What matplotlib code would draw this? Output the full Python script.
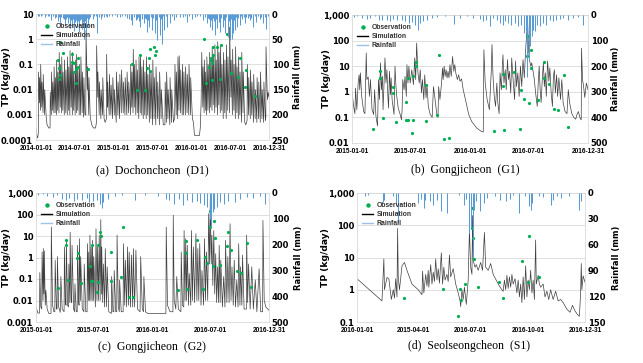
import datetime as dt
import numpy as np
import matplotlib
matplotlib.use("Agg")
import matplotlib.pyplot as plt
from matplotlib.lines import Line2D
from matplotlib.ticker import NullLocator

plt.rcParams['font.family'] = ['DejaVu Sans']

# ---------------- (a) Dochoncheon (D1) : day offsets from 2014-01-01 ----------------
a_sim_day = [0, 4, 8, 11, 12, 16, 17, 21, 22, 27, 28, 33, 34, 40, 41, 48, 52, 60, 66, 67, 72, 73, 78, 79, 84, 85, 90, 91, 96, 97,
             102, 103, 108, 109, 114, 115, 120, 121, 126, 127, 133, 134, 140, 141, 147, 148, 153, 154, 159, 160, 165, 166, 171, 172,
             177, 178, 184, 185, 190, 191, 196, 197, 203, 204, 210, 211, 217, 218, 224, 225, 230, 234, 235, 239, 241, 242, 248, 249,
             255, 262, 270, 280, 284, 285, 290, 291, 297, 298, 305, 306, 313, 314, 320, 325, 331, 332, 336, 337, 344, 345, 352, 353,
             360, 361, 368, 369, 377, 378, 385, 386, 393, 394, 401, 402, 410, 411, 418, 419, 427, 428, 435, 436, 444, 445, 450, 451,
             456, 457, 462, 463, 469, 470, 476, 477, 483, 484, 490, 491, 497, 498, 504, 505, 511, 512, 518, 519, 525, 526, 533, 534,
             540, 541, 548, 549, 555, 556, 563, 564, 571, 572, 580, 581, 588, 589, 598, 606, 607, 613, 614, 620, 621, 629, 630, 637,
             638, 646, 652, 653, 659, 660, 666, 667, 672, 673, 679, 680, 687, 688, 694, 695, 702, 703, 710, 711, 718, 719, 726, 727,
             735, 740, 744, 746, 768, 772, 776, 778, 779, 784, 785, 790, 791, 796, 797, 802, 803, 808, 809, 815, 816, 821, 822, 827,
             828, 833, 834, 840, 841, 846, 847, 853, 854, 859, 860, 866, 867, 873, 874, 880, 881, 887, 888, 894, 895, 901, 902, 909,
             910, 914, 916, 917, 923, 924, 930, 931, 937, 938, 944, 945, 951, 952, 958, 959, 966, 967, 973, 974, 981, 986, 992, 993,
             999, 1000, 1007, 1008, 1014, 1015, 1022, 1023, 1030, 1031, 1038, 1039, 1046, 1047, 1054, 1055, 1062, 1063, 1070, 1071,
             1078, 1080, 1081, 1086, 1088, 1091, 1095]
a_sim_val = [0.0003, 0.00015, 0.00012, 0.0002, 0.05, 0.003, 0.03, 0.0015, 0.1, 0.002, 0.02, 0.0012, 0.04, 0.001, 0.01, 0.0008,
             0.0004, 0.0003, 0.0003, 0.008, 0.001, 0.05, 0.0015, 0.02, 0.0012, 0.08, 0.0012, 0.03, 0.001, 0.15,
             0.0015, 0.05, 0.0012, 0.3, 0.002, 0.1, 0.0012, 0.2, 0.0015, 0.05, 0.001, 0.15, 0.0012, 0.06, 0.001, 0.2, 0.0015, 0.08,
             0.001, 0.35, 0.002, 0.1, 0.001, 0.3,
             0.0015, 0.05, 0.001, 0.15, 0.0012, 0.25, 0.0015, 0.08, 0.001, 0.1, 0.001, 0.2, 0.0012, 0.05, 0.0008, 0.03, 0.001,
             0.001, 2.2, 0.05, 0.01, 0.08, 0.001, 0.03,
             0.0008, 0.0004, 0.0003, 0.0003, 0.0005, 0.55, 0.005, 0.05, 0.001, 0.02, 0.0007, 0.01, 0.001, 0.03, 0.0007, 0.0005,
             0.0007, 0.25, 0.002, 0.02, 0.001, 0.04, 0.001, 0.015,
             0.0007, 0.03, 0.001, 0.01, 0.0005, 0.05, 0.001, 0.02, 0.0007, 0.04, 0.0012, 0.06, 0.0012, 0.02, 0.001, 0.03, 0.001,
             0.05, 0.0012, 0.02, 0.001, 0.1, 0.002, 0.05,
             0.0012, 0.4, 0.002, 0.1, 0.001, 0.15, 0.0012, 0.06, 0.0007, 0.2, 0.0012, 0.25, 0.001, 0.08, 0.0007, 0.15, 0.001,
             0.05, 0.0007, 0.2, 0.001, 0.04, 0.0005, 0.1,
             0.0007, 0.05, 0.0004, 0.15, 0.0007, 0.03, 0.0004, 0.08, 0.0007, 0.02, 0.0004, 0.05, 0.0007, 0.01, 0.0004, 0.0004,
             0.02, 0.0005, 0.05, 0.0007, 0.01, 0.0004, 0.03, 0.0005,
             0.01, 0.0005, 0.0008, 0.1, 0.001, 0.05, 0.0007, 0.2, 0.0015, 0.22, 0.0012, 0.06, 0.001, 0.1, 0.001, 0.05, 0.001,
             0.08, 0.0012, 0.04, 0.001, 0.1, 0.001, 0.03,
             0.0007, 0.0005, 0.00018, 0.00015, 0.00015, 0.0003, 0.003, 0.05, 0.3, 0.002, 0.08, 0.0012, 0.15, 0.0015, 0.05,
             0.001, 0.2, 0.0015, 0.1, 0.0012, 0.3, 0.002, 0.15, 0.0015,
             0.5, 0.0025, 0.2, 0.0012, 0.6, 0.002, 0.15, 0.001, 0.8, 0.0025, 0.3, 0.0012, 0.5, 0.0015, 0.1, 0.0007, 0.3, 0.0012,
             0.15, 0.0007, 0.6, 0.0015, 0.2, 0.0012,
             3.0, 0.03, 0.005, 0.15, 0.001, 0.4, 0.0015, 0.1, 0.0007, 0.5, 0.0012, 0.08, 0.0007, 0.2, 0.001, 0.05, 0.0005, 0.3,
             0.0012, 0.05, 0.0005, 0.0004, 0.0006, 0.1,
             0.001, 0.03, 0.0007, 0.06, 0.001, 0.02, 0.0005, 0.04, 0.0007, 0.01, 0.0005, 0.03, 0.0007, 0.02, 0.0005, 0.05,
             0.0007, 0.01, 0.0005, 0.02,
             0.0006, 0.0008, 0.5, 0.01, 0.004, 0.008, 0.005]
a_obs_day = [115, 128, 168, 104, 196, 168, 180, 107, 199, 187, 177, 107, 115, 188, 243,
             453, 491, 473, 510, 530, 522, 538, 538, 555, 557, 566,
             790, 799, 815, 823, 823, 827, 830, 834, 827, 849, 868, 865, 897, 916, 950, 959, 986, 983, 1028]
a_obs_val = [0.76, 0.28, 0.26, 0.15, 0.18, 0.12, 0.11, 0.075, 0.082, 0.066, 0.052, 0.027, 0.038, 0.018, 0.064,
             0.1, 0.24, 0.0093, 0.0093, 0.18, 0.07, 0.057, 0.4, 0.51, 0.24, 0.35,
             1.06, 0.019, 0.077, 0.15, 0.18, 0.11, 0.24, 0.47, 0.024, 0.51, 0.6, 0.027, 1.58, 0.045, 0.033, 0.18, 0.06, 0.013, 0.0058]
a_rain_day = [8, 22, 30, 40, 55, 72, 80, 87, 95, 103, 110, 115, 125, 134, 140, 149, 155, 159, 168, 175, 180, 186, 193, 199, 204,
              210, 215, 221, 227, 236, 246, 255, 266, 280, 289, 305, 320, 336, 359, 383, 406, 420, 437, 453, 468, 480, 491, 500,
              507, 515, 522, 533, 546, 557, 569, 582, 592, 603, 616, 631, 647, 660, 678, 700, 709, 732, 756, 770, 787, 802, 810,
              818, 827, 835, 841, 852, 858, 865, 877, 889, 902, 911, 919, 927, 936, 945, 958, 970, 981, 995, 1005, 1020, 1036,
              1051, 1067, 1075, 1082, 1090,
              15, 48, 63, 118, 130, 145, 163, 172, 183, 190, 197, 207, 218, 224, 232, 240, 250, 272, 296, 312, 328, 345, 370,
              395, 430, 445, 460, 474, 486, 496, 511, 527, 540, 552, 563, 576, 587, 598, 610, 640, 690, 720, 745, 795, 814,
              823, 831, 846, 861, 871, 883, 895, 906, 915, 923, 932, 941, 950, 964, 976, 988, 1000, 1012, 1028, 1044, 1059]
a_rain_mm = [3, 4, 2, 5.3, 3, 12, 4, 8.6, 5, 13, 6, 18.5, 8, 22, 10, 18.5, 7, 28, 25, 9, 33, 12, 25, 14, 35,
             10, 30, 15, 50, 38, 24, 6, 9, 4, 38, 9, 5, 6.6, 4, 5.3, 3, 4, 9, 22, 12, 6, 25, 8,
             18.5, 10, 35, 25, 32, 38, 52, 42, 60, 32, 25, 18.5, 12, 6, 5.3, 4, 15, 9, 4, 3, 12, 18.5, 8,
             25, 32, 14, 42, 28, 12, 35, 25, 38, 45, 52, 50, 38, 32, 25, 22, 10, 18.5, 8, 12, 25, 15.5,
             9, 18.5, 6, 30, 4,
             3, 2, 4, 6, 9, 5, 12, 8, 15, 10, 7, 12, 9, 6, 14, 8, 10, 4, 5, 3, 4, 3, 2,
             5, 8, 12, 6, 10, 14, 9, 7, 11, 5, 8, 12, 6, 9, 4, 3, 4, 6, 3, 5, 6, 9,
             12, 7, 10, 15, 8, 11, 6, 13, 9, 7, 12, 5, 8, 4, 6, 5, 3, 7, 4, 3, 5]

# ---------------- (b) Gongjicheon (G1) : day offsets from 2015-01-01 ----------------
b_sim_day = [0, 5, 9, 11, 15, 19, 22, 24, 26, 30, 36, 40, 44, 46, 50, 54, 57, 62, 67, 70, 74, 79, 82, 85, 88, 91, 94, 96,
             102, 105, 108, 111, 113, 116, 119, 121, 124, 130, 133, 136, 139, 143, 149, 153, 155, 157, 161, 164, 168, 170,
             173, 176, 180, 185, 190, 194, 197, 200, 204, 208, 211, 215, 218, 222, 225, 229, 232, 236, 242, 248, 252, 257,
             262, 266, 268, 272, 277, 280, 282, 285, 288, 291, 294, 297, 300, 303, 307, 311, 315, 318, 321, 326, 330, 334,
             339, 344, 353, 361, 370, 386, 401, 406, 408, 412, 418, 425, 431, 433, 436, 440, 444, 448, 451, 455, 458, 462,
             465, 467, 470, 474, 477, 481, 484, 487, 491, 494, 499, 503, 506, 509, 513, 517, 521, 525, 529, 533, 537, 540,
             543, 546, 549, 553, 556, 560, 564, 568, 573, 576, 579, 582, 585, 589, 592, 595, 598, 601, 605, 609, 612, 616,
             620, 623, 626, 629, 633, 636, 640, 645, 649, 653, 659, 665, 669, 673, 680, 686, 692, 696, 700, 706, 709, 710,
             713, 716, 720, 725, 730]
b_sim_val = [1.05, 0.27, 0.14, 1.4, 0.2, 2.2, 4.6, 1.2, 5.5, 0.66, 0.17, 0.14, 33, 3.0, 3.8, 0.66, 3.0, 0.2, 0.13, 1.2,
             0.11, 0.046, 3.0, 0.5, 13.5, 1.2, 4.0, 0.2,
             21, 2.2, 7.3, 0.66, 0.23, 6.3, 0.77, 3.5, 0.5, 0.13, 10, 1.6, 0.58, 0.23, 0.13, 0.08, 0.2, 3.0, 1.2, 4.0, 0.66,
             11.5,
             2.2, 10, 2.2, 7.3, 1.9, 21, 3.0, 80, 5.5, 2.2, 7.3, 0.9, 3.0, 0.5, 4.6, 0.58, 1.9, 0.27, 0.13, 0.1, 1.6, 0.5,
             0.14, 0.1, 1.6, 0.5, 2.2, 8.5, 3.0, 10, 4.0, 7.3, 3.5, 6.3, 3.5, 11.5, 4.0, 24, 6.3, 11.5, 5.5, 3.0, 4.6, 2.6,
             3.2, 1.2, 0.38, 0.13, 0.07, 0.038, 0.028, 0.027, 44, 2.2, 0.5, 0.2, 7.3, 70, 4.6, 0.66, 0.27, 2.2, 0.38, 0.14,
             5.5, 1.2,
             10, 28, 2.2, 7.3, 1.2, 18, 3.0, 6.3, 0.9, 21, 2.2, 0.5, 16, 1.6, 5.5, 0.66, 10, 1.6, 18, 3.5, 44, 150,
             760, 44, 18, 10, 13.5, 6.3, 3.0, 0.9, 0.27, 2.2, 10, 1.2, 0.38, 4.0, 13.5, 1.6, 5.5, 0.66, 16, 2.6, 8.5, 0.9,
             0.27, 4.0, 7.3, 0.9, 4.6, 0.66, 3.5, 0.5, 3.0, 0.38, 0.17, 0.14, 1.2, 0.38, 0.14, 0.1, 0.085, 0.13, 0.17, 0.09,
             0.08, 51,
             3.0, 1.8, 0.6, 2.2, 1.2]
b_obs_day = [87, 87, 65, 96, 126, 126, 137, 167, 167, 173, 172, 188, 188, 186, 199, 199, 230, 230, 262, 268, 285, 300,
             439, 469, 466, 466, 502, 519, 524, 531, 540, 540, 548, 554, 554, 575, 595, 595, 608, 624, 636, 655, 668]
b_obs_val = [6.7, 3.5, 0.036, 0.095, 1.6, 0.9, 0.065, 0.4, 0.078, 0.078, 3.5, 4.0, 0.077, 0.025, 14.5, 10.5, 1.9, 0.075,
             0.124, 27.5, 0.0138, 0.015,
             0.03, 0.033, 1.73, 5.1, 6.1, 0.034, 1.14, 0.52, 147, 24, 0.37, 44, 8.5, 0.46, 14.5, 3.4, 2.1, 0.21, 0.2, 4.5, 0.042]
b_rain_day = [5, 15, 31, 46, 57, 72, 82, 93, 108, 118, 128, 139, 154, 164, 175, 185, 195, 203, 211, 221, 231, 247, 262,
              288, 314, 334, 355, 375, 396, 406, 416, 427, 437, 447, 457, 466, 474, 483, 493, 504, 514, 524, 531, 538, 542,
              546, 550, 556, 560, 566, 572, 581, 591, 601, 612, 622, 632, 642, 653, 668, 684, 699, 714]
b_rain_mm = [8, 5, 12, 16, 12, 5, 18, 21, 18, 25, 16, 21, 18, 25, 31, 29, 38, 57, 31, 25, 18, 12, 8,
             5, 34, 12, 5, 12, 16, 25, 21, 44, 12, 21, 31, 38, 25, 31, 38, 31, 44, 38, 70, 57, 242,
             175, 122, 83, 57, 64, 38, 44, 31, 38, 18, 25, 21, 16, 12, 18, 12, 8, 38]

# ---------------- (c) Gongjicheon (G2) : day offsets from 2015-01-01 ----------------
c_sim_day = [0, 6, 11, 12, 15, 18, 19, 22, 23, 25, 26, 29, 31, 35, 40, 47, 48, 52, 56, 59, 60, 64, 66, 67, 71, 76, 78,
             82, 88, 89, 92, 94, 95, 99, 102, 103, 106, 107, 110, 112, 113, 118, 121, 122, 126, 129, 130, 134, 135, 136,
             139, 140, 145, 150, 151, 156, 160, 161, 164, 165, 168, 169, 172, 173, 176, 177, 180, 181, 186, 188, 191, 193,
             196, 198, 201, 203, 205, 206, 209, 211, 215, 217, 221, 223, 228, 236, 237, 241, 244, 245, 250, 253, 254, 258,
             261, 262, 267, 273, 274, 278, 280, 284, 287, 290, 292, 296, 299, 303, 305, 309, 313, 318, 326, 328, 333, 337,
             338, 343, 350, 405, 407, 408, 412, 420, 429, 430, 433, 438, 441, 446, 454, 455, 459, 463, 464, 467, 469, 472,
             474, 478, 480, 485, 487, 490, 493, 497, 501, 504, 507, 510, 513, 517, 520, 525, 528, 531, 534, 538, 541, 544,
             546, 549, 551, 554, 557, 560, 563, 566, 569, 572, 574, 577, 579, 584, 588, 592, 594, 598, 601, 605, 608, 611,
             614, 618, 621, 625, 629, 633, 635, 639, 641, 645, 647, 652, 659, 660, 663, 666, 671, 676, 681, 687, 692, 699,
             704, 710, 711, 715, 720, 726, 730]
c_sim_val = [0.005, 0.0026, 0.0026, 0.2, 0.005, 0.004, 1.8, 0.01, 2.6, 0.02, 2.0, 0.006, 0.03, 0.004, 0.0025, 0.0025,
             26, 0.006, 0.003, 0.003, 0.75, 0.004, 0.004, 1.1, 0.005, 0.0028, 0.13,
             0.004, 0.003, 3.1, 0.008, 0.006, 6.3, 0.006, 0.005, 0.5, 0.008, 15, 0.01, 0.008, 3.7, 0.004, 0.003, 0.06, 0.003,
             0.003, 3.7, 0.007, 0.006, 7.5,
             0.01, 1.1, 0.004, 0.003, 0.5, 0.003, 0.003, 4.4, 0.01, 1.8, 0.01, 11, 0.01, 3.1, 0.01, 6.3, 0.01, 1.1, 0.005, 22,
             0.01, 3.1,
             0.01, 11, 0.01, 58, 0.02, 3.1, 0.008, 0.5, 0.005, 2.6, 0.005, 0.37, 0.003, 0.0025, 0.13, 0.003, 0.003, 0.25,
             0.003, 0.003, 11, 0.005,
             0.003, 0.09, 0.003, 0.003, 4.4, 0.006, 0.75, 0.005, 3.1, 0.006, 1.8, 0.005, 1.3, 0.005, 2.6, 0.005, 2.2, 0.004,
             0.003, 1.1, 0.004, 0.003,
             0.13, 0.003, 0.0025, 0.0025, 0.0025, 26, 0.006, 0.003, 0.003, 92, 0.01, 0.004, 0.13, 0.004, 0.003, 1.8, 0.006,
             0.005, 18, 0.01, 7.5, 0.01,
             3.7, 0.006, 0.18, 0.006, 18, 0.01, 3.1, 0.008, 13, 0.01, 2.6, 0.01, 4.4, 0.006, 0.25, 0.006, 7.5, 0.01, 1.8,
             0.01, 110, 0.5,
             550, 0.5, 11, 0.05, 18, 0.02, 1.5, 0.008, 0.37, 0.008, 3.7, 0.008, 0.75, 0.005, 0.13, 0.005, 6.3, 0.008, 1.1,
             0.008, 37, 0.01,
             0.37, 0.006, 0.75, 0.005, 0.09, 0.005, 4.4, 0.006, 0.37, 0.006, 1.3, 0.004, 0.004, 11, 0.008, 0.5, 0.004, 0.37,
             0.004, 0.09, 0.003, 0.3,
             0.003, 0.003, 53, 0.01, 0.005, 0.004, 0.0035]
c_obs_day = [93, 93, 70, 101, 132, 130, 140, 169, 171, 175, 176, 193, 193, 191, 202, 203, 235, 235, 265, 272, 291, 305,
             444, 473, 469, 469, 505, 523, 528, 536, 544, 544, 555, 559, 560, 578, 600, 598, 610, 630, 641, 660, 674]
c_obs_val = [6.8, 3.7, 0.037, 0.093, 1.7, 0.96, 0.065, 0.42, 0.082, 0.082, 3.9, 3.9, 0.074, 0.025, 14.8, 9.6, 1.9, 0.077,
             0.125, 27, 0.0144, 0.015,
             0.031, 0.034, 1.7, 5.7, 6.3, 0.034, 1.1, 0.56, 146, 25, 0.39, 48, 8.5, 0.46, 15.3, 3.6, 2.2, 0.23, 0.2, 4.7, 0.044]
c_rain_day = [5, 21, 36, 52, 67, 82, 93, 103, 119, 129, 144, 160, 167, 180, 191, 201, 206, 211, 227, 247, 268, 309, 340,
              381, 407, 418, 433, 448, 459, 474, 490, 505, 515, 526, 536, 544, 548, 553, 557, 567, 577, 588, 603, 624,
              639, 660, 680, 701, 717]
c_rain_mm = [9, 5, 13, 15.5, 9, 22, 28, 18, 31, 22, 26, 18, 35, 31, 28, 41, 57, 35, 22, 13, 9, 28, 9,
             13, 22, 26, 41, 22, 48, 28, 35, 31, 39, 48, 54, 99, 132, 74, 61, 54, 35, 44, 31, 35,
             22, 15.5, 18, 13, 41]

# ---------------- (d) Seolseongcheon (S1) : day offsets from 2016-01-01 ----------------
d_sim_day = [0, 40, 43, 44, 48, 51, 55, 58, 60, 62, 64, 65, 66, 68, 72, 76, 80, 88, 98, 104, 105, 107, 110, 112, 114, 115,
             118, 120, 122, 124, 126, 128, 130, 132, 135, 137, 139, 141, 144, 146, 148, 150, 154, 158, 162, 165, 166, 168,
             170, 172, 175, 178, 180, 182, 184, 185, 186, 189, 191, 194, 198, 201, 204, 206, 210, 214, 218, 224, 228, 232,
             234, 236, 238, 240, 242, 244, 246, 248, 250, 253, 256, 258, 260, 262, 264, 266, 268, 270, 272, 274, 276, 278,
             280, 282, 284, 286, 287, 290, 292, 294, 298, 301, 304, 307, 310, 314, 318, 322, 326, 330, 336, 341, 345, 349,
             353, 356, 358, 359, 360, 362, 365]
d_sim_val = [2.2, 0.45, 9, 1.0, 2.4, 2.2, 0.5, 1.0, 0.55, 2.2, 0.6, 80, 2.5, 1.0, 5.5, 7.0, 4.0, 1.5, 1.0, 0.7, 3.8, 0.8,
             3.0, 1.3, 4.0, 1.2,
             6, 1.5, 3.5, 1.8, 9, 2.0, 4.5, 1.6, 14, 1.5, 5, 2, 3, 1.8, 12, 2.5, 4.5, 1.5, 0.8, 0.45, 0.3, 1.0,
             0.5, 1.2, 0.35, 2.0, 70, 5, 3, 200, 8, 5, 6, 4, 7, 4, 60, 5, 4, 6.5, 3, 1.8, 1.3, 1.0,
             0.9, 2.0, 1.0, 2.8, 1.1, 2.5, 1.2, 3.0, 1.5, 2.2, 0.8, 2.0, 0.6, 1.5, 0.4, 2.5, 0.5, 5.5, 0.6, 2.0, 1.0, 4.0,
             0.8, 2, 0.5, 35, 1.5, 2.8, 1.5, 1.2, 1.5, 0.6, 0.9, 0.5, 1.0, 0.5, 0.9, 0.45, 0.5, 0.4, 0.25, 0.2, 0.33, 0.22,
             0.17, 0.15, 0.8, 6.5, 1.0, 2.7, 1.7]
d_obs_day = [75, 138, 162, 165, 166, 173, 184, 184, 186, 187, 193, 227, 234, 264, 274, 276, 291]
d_obs_val = [0.54, 1.09, 0.155, 1.05, 0.47, 1.5, 340, 81, 40, 8.7, 1.24, 1.72, 0.55, 7.9, 1.77, 47, 2.4]
d_rain_day = [13, 18, 42, 43, 57, 63, 65, 97, 102, 107, 109, 117, 122, 128, 134, 144, 164, 171, 175, 180, 182, 185, 188,
              191, 197, 204, 208, 221, 229, 239, 245, 250, 259, 269, 276, 278, 280, 292, 298, 310, 314, 320, 327, 339,
              355, 358]
d_rain_mm = [3, 2, 10, 8, 4, 14, 35, 12, 7, 17.5, 8.6, 9.7, 13.6, 7.8, 21, 23, 2.7, 13.6, 7, 47, 39, 74, 19.5,
             9.7, 21, 11.7, 5.8, 3, 7.8, 9.7, 7, 2, 23, 3.9, 15.6, 19.5, 11.7, 3, 4.7, 13.6, 7.8, 3.9, 5.8, 3,
             19.5, 9.7]

# ---------------- axis settings ----------------
a_xtick_dates = ["2014-01-01", "2014-07-01", "2015-01-01", "2015-07-01", "2016-01-01", "2016-07-01", "2016-12-31"]
b_xtick_dates = ["2015-01-01", "2015-07-01", "2016-01-01", "2016-07-01", "2016-12-31"]
d_xtick_dates = ["2016-01-01", "2016-04-01", "2016-07-01", "2016-10-01", "2016-12-31"]
d_xtick_labels = ["2016-01-01", "2015-04-01", "2016-07-01", "2016-10-01", "2016-12-31"]

a_yticks = [0.0001, 0.001, 0.01, 0.1, 1, 10]
a_ylabels = ["0.0001", "0.001", "0.01", "0.1", "1", "10"]
b_yticks = [0.01, 0.1, 1, 10, 100, 1000]
b_ylabels = ["0.01", "0.1", "1", "10", "100", "1,000"]
c_yticks = [0.001, 0.01, 0.1, 1, 10, 100, 1000]
c_ylabels = ["0.001", "0.01", "0.1", "1", "10", "100", "1,000"]
d_yticks = [0.1, 1, 10, 100, 1000]
d_ylabels = ["0.1", "1", "10", "100", "1,000"]

a_rticks = [0, 50, 100, 150, 200, 250]
b_rticks = [0, 100, 200, 300, 400, 500]
d_rticks = [0, 30, 60, 90, 120, 150]

captions = ["(a)  Dochoncheon  (D1)", "(b)  Gongjicheon  (G1)", "(c)  Gongjicheon  (G2)", "(d)  Seolseongcheon  (S1)"]

W, H = 643, 363
fig = plt.figure(figsize=(W / 100, H / 100), dpi=100)

OBS_C = "#00b050"
SIM_C = "#404040"
RAIN_C = "#5b9bd5"
GRID_C = "#d9d9d9"


def rect(l, t, r, b):
    return [l / W, 1 - b / H, (r - l) / W, (b - t) / H]


def panel(box, start, end, sim_d, sim_v, obs_d, obs_v, rain_d, rain_mm, tdates, tlabels, yticks, ylabels,
          rticks, ylab_x, rlab_x, caption, cap_xy):
    ax = fig.add_axes(rect(*box))
    s = dt.date.fromisoformat(start)
    ndays = (dt.date.fromisoformat(end) - s).days
    ax.plot(sim_d, sim_v, color=SIM_C, lw=0.5, zorder=2)
    ax.plot(obs_d, obs_v, 'o', color=OBS_C, ms=2.3, mec='none', zorder=3)
    ax.set_yscale('log')
    ax.set_ylim(yticks[0], yticks[-1])
    ax.set_yticks(yticks)
    ax.set_yticklabels(ylabels, fontweight='bold', fontsize=6)
    ax.yaxis.set_minor_locator(NullLocator())
    ax.set_xlim(0, ndays)
    ax.set_xticks([(dt.date.fromisoformat(d) - s).days for d in tdates])
    ax.set_xticklabels(tlabels, family='Liberation Sans', fontweight='bold', fontsize=4.7)
    ax.grid(axis='y', color=GRID_C, lw=0.6)
    ax.set_axisbelow(True)
    for sp in ax.spines.values():
        sp.set_color(GRID_C)
        sp.set_linewidth(0.6)
    ax.tick_params(axis='y', length=0, pad=2)
    ax.tick_params(axis='x', length=0, pad=3.5)
    ax.set_ylabel("TP (kg/day)", fontsize=6.6, fontweight='bold')
    ax.yaxis.set_label_coords(ylab_x, 0.5)

    ax2 = ax.twinx()
    ax2.vlines(rain_d, 0, rain_mm, color=RAIN_C, lw=0.75)
    ax2.set_ylim(rticks[-1], 0)
    ax2.set_yticks(rticks)
    ax2.set_yticklabels([str(r) for r in rticks], fontweight='bold', fontsize=6)
    ax2.tick_params(axis='y', length=0, pad=2)
    for sp in ax2.spines.values():
        sp.set_visible(False)
    ax2.set_ylabel("Rainfall (mm)", fontsize=6.0, fontweight='bold')
    ax2.yaxis.set_label_coords(rlab_x, 0.5)
    ax2.set_xlim(0, ndays)

    handles = [Line2D([], [], marker='o', ls='none', color=OBS_C, ms=3.2, mec='none'),
               Line2D([], [], color='black', lw=1.0),
               Line2D([], [], color='#9dc3e6', lw=1.0)]
    leg = ax2.legend(handles, ["Observation", "Simulation", "Rainfall"], loc='upper left',
                     bbox_to_anchor=(0.005, 0.96), frameon=False, handlelength=1.6,
                     handletextpad=0.5, labelspacing=0.3, borderaxespad=0.2,
                     prop={'family': 'Liberation Sans', 'size': 4.9, 'weight': 'bold'})
    for t in leg.get_texts():
        t.set_color('#333333')

    fig.text(cap_xy[0] / W, 1 - cap_xy[1] / H, caption, family='Liberation Serif', fontsize=8.5,
             ha='center', va='center')


panel((36, 14, 269, 140), "2014-01-01", "2016-12-31", a_sim_day, a_sim_val, a_obs_day, a_obs_val,
      a_rain_day, a_rain_mm, a_xtick_dates, a_xtick_dates, a_yticks, a_ylabels, a_rticks,
      -0.107, 1.103, captions[0], (152, 170))
panel((352, 15, 588, 143), "2015-01-01", "2016-12-31", b_sim_day, b_sim_val, b_obs_day, b_obs_val,
      b_rain_day, b_rain_mm, b_xtick_dates, b_xtick_dates, b_yticks, b_ylabels, b_rticks,
      -0.089, 1.097, captions[1], (465, 170))
panel((36, 193, 269, 322), "2015-01-01", "2016-12-31", c_sim_day, c_sim_val, c_obs_day, c_obs_val,
      c_rain_day, c_rain_mm, b_xtick_dates, b_xtick_dates, c_yticks, c_ylabels, b_rticks,
      -0.107, 1.107, captions[2], (152, 347))
panel((357, 193, 585, 322), "2016-01-01", "2016-12-31", d_sim_day, d_sim_val, d_obs_day, d_obs_val,
      d_rain_day, d_rain_mm, d_xtick_dates, d_xtick_labels, d_yticks, d_ylabels, d_rticks,
      -0.118, 1.118, captions[3], (469, 346))

fig.savefig("out.png", dpi=100)
